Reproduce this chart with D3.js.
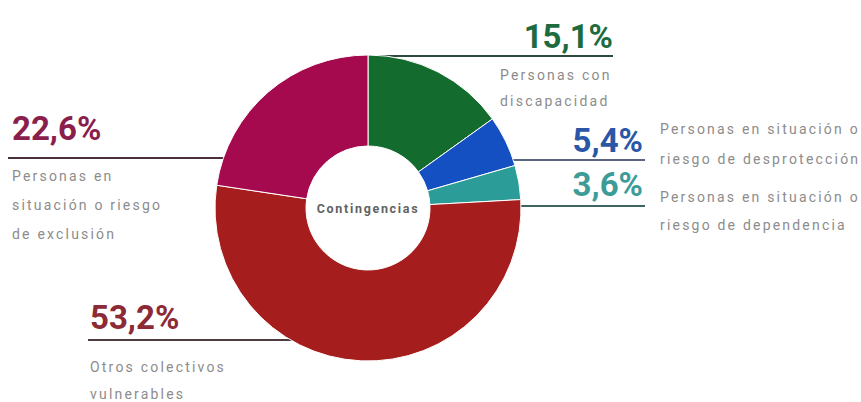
<!DOCTYPE html>
<html>
<head>
<meta charset="utf-8">
<script src="https://cdn.jsdelivr.net/npm/d3@7"></script>
<style>
  html, body { margin: 0; padding: 0; background: #ffffff; }
  svg { display: block; }
</style>
</head>
<body>
<svg id="chart" width="861" height="402"></svg>
<script>
// ---- Data ----
const categories = [
  "Personas con discapacidad",
  "Personas en situación o riesgo de desprotección",
  "Personas en situación o riesgo de dependencia",
  "Otros colectivos vulnerables",
  "Personas en situación o riesgo de exclusión"
];
const values = [15.1, 5.4, 3.6, 53.2, 22.6];
const percentLabels = ["15,1%", "5,4%", "3,6%", "53,2%", "22,6%"];
const labelLines = [
  ["Personas con", "discapacidad"],
  ["Personas en situación o", "riesgo de desprotección"],
  ["Personas en situación o", "riesgo de dependencia"],
  ["Otros colectivos", "vulnerables"],
  ["Personas en", "situación o riesgo", "de exclusión"]
];
const centerLabel = "Contingencias";

// ---- Styles ----
const sliceColors = ["#146b2e", "#1450c2", "#2b9c98", "#a61d1d", "#a60a4e"];
const pctColors   = ["#1d6b3e", "#2a56a8", "#3d9c98", "#8c2a36", "#8b1f4c"];
const lineColors  = ["#2e4a3c", "#5a6680", "#3e6464", "#4e3c3e", "#4a2f3c"];

// ---- Layout (positions of annotations) ----
const cx = 368, cy = 208, outerR = 153, innerR = 62;
const layout = [
  { side: "right", lineY: 56,  lineEnd: 613, pctX: 613, pctY: 48,  pctAnchor: "end",   textX: 500, textY: [80, 106] },
  { side: "right", lineY: 160, lineEnd: 645, pctX: 643, pctY: 152, pctAnchor: "end",   textX: 660, textY: [134, 164] },
  { side: "right", lineY: 206, lineEnd: 645, pctX: 643, pctY: 196, pctAnchor: "end",   textX: 660, textY: [202, 230] },
  { side: "left",  lineY: 340, lineEnd: 88,  pctX: 90,  pctY: 329, pctAnchor: "start", textX: 90,  textY: [372, 399] },
  { side: "left",  lineY: 158, lineEnd: 8,   pctX: 12,  pctY: 140, pctAnchor: "start", textX: 12,  textY: [181, 210, 239] }
];

const svg = d3.select("#chart");
const data = values.map((v, i) => ({ category: categories[i], value: v, i }));

const pie = d3.pie().sort(null).value(d => d.value).startAngle(0).endAngle(2 * Math.PI);
const arc = d3.arc().innerRadius(innerR).outerRadius(outerR);
const arcs = pie(data);

// leader lines (behind donut)
const lines = svg.append("g");
layout.forEach((L, i) => {
  const dy = L.lineY - cy;
  const dx = Math.sqrt(Math.max(0, outerR * outerR - dy * dy));
  let x1 = L.side === "right" ? cx + dx - 2 : cx - dx + 2;
  if (i === 0) x1 = cx + 8;
  lines.append("line")
    .attr("x1", x1).attr("x2", L.lineEnd)
    .attr("y1", L.lineY).attr("y2", L.lineY)
    .attr("stroke", lineColors[i]).attr("stroke-width", 2);
});

// donut
const g = svg.append("g").attr("transform", `translate(${cx},${cy})`);
g.selectAll("path").data(arcs).enter().append("path")
  .attr("d", arc)
  .attr("fill", d => sliceColors[d.data.i])
  .attr("stroke", "#ffffff")
  .attr("stroke-width", 1);

g.append("text")
  .attr("x", 0).attr("y", 5)
  .attr("text-anchor", "middle")
  .attr("font-family", "Roboto, sans-serif")
  .attr("font-weight", "bold")
  .attr("font-size", 12.5)
  .attr("letter-spacing", "1.7px")
  .attr("fill", "#626262")
  .text(centerLabel);

// annotations
const ann = svg.append("g");
layout.forEach((L, i) => {
  ann.append("text")
    .attr("x", L.pctX).attr("y", L.pctY)
    .attr("text-anchor", L.pctAnchor)
    .attr("font-family", "Roboto, sans-serif")
    .attr("font-weight", "bold")
    .attr("font-size", 33)
    .attr("fill", pctColors[i])
    .text(percentLabels[i]);
  labelLines[i].forEach((t, k) => {
    ann.append("text")
      .attr("x", L.textX).attr("y", L.textY[k])
      .attr("font-family", "Roboto, sans-serif")
      .attr("font-size", 14)
      .attr("letter-spacing", "2.2px")
      .attr("fill", "#8c8c8c")
      .text(t);
  });
});
</script>
</body>
</html>
